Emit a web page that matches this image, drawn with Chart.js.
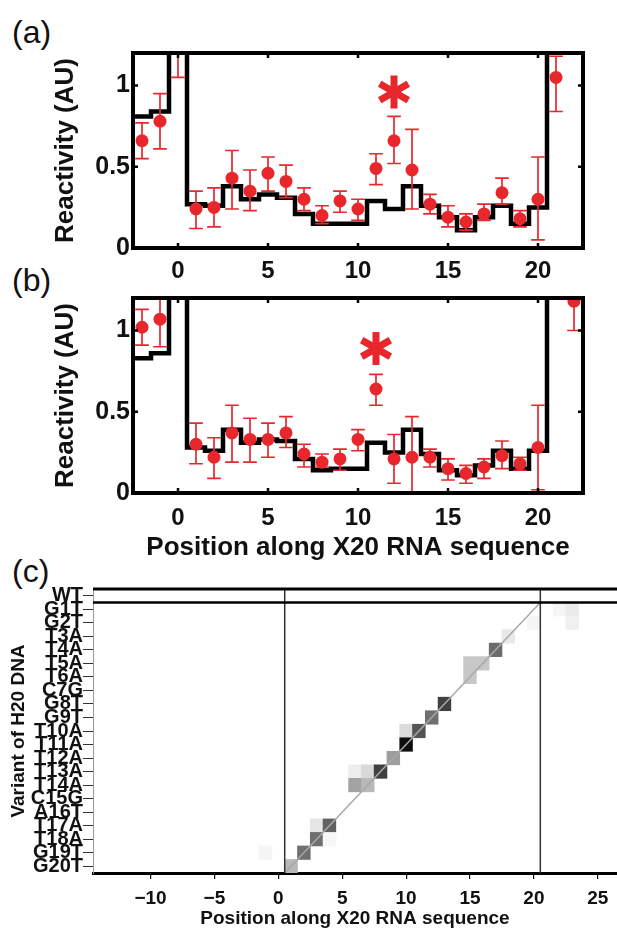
<!DOCTYPE html>
<html><head><meta charset="utf-8">
<script src="https://cdn.jsdelivr.net/npm/chart.js@4.4.1/dist/chart.umd.min.js"></script>
<style>
html,body{margin:0;padding:0;background:#fff;}
body{width:617px;height:930px;position:relative;overflow:hidden;font-family:"Liberation Sans",Arial,Helvetica,sans-serif;}
canvas{position:absolute;left:0;}
.lab{position:absolute;left:12px;font-size:32px;line-height:32px;color:#111;font-family:"Liberation Sans",Arial,sans-serif;}
</style></head><body>
<div class="lab" style="top:16px">(a)</div>
<div class="lab" style="top:264px">(b)</div>
<div class="lab" style="top:555px">(c)</div>
<canvas id="ca" width="617" height="285" style="top:0px"></canvas>
<canvas id="cb" width="617" height="290" style="top:280px"></canvas>
<canvas id="cc" width="617" height="370" style="top:560px"></canvas>
<script>
// ---------- Panel (a) ----------
const aPos = [-2,-1,0,1,2,3,4,5,6,7,8,9,10,11,12,13,14,15,16,17,18,19,20,21];
const aVal = [0.66,0.78,1.30,0.24,0.25,0.43,0.35,0.46,0.41,0.30,0.20,0.29,0.24,0.49,0.66,0.48,0.27,0.19,0.16,0.21,0.34,0.18,0.30,1.05];
const aLo  = [0.55,0.61,1.05,0.12,0.13,0.24,0.23,0.35,0.31,0.23,0.15,0.22,0.17,0.39,0.52,0.24,0.21,0.13,0.11,0.17,0.27,0.13,0.05,0.84];
const aHi  = [0.77,0.95,1.55,0.35,0.37,0.60,0.48,0.56,0.51,0.37,0.26,0.35,0.30,0.58,0.81,0.73,0.33,0.26,0.21,0.27,0.43,0.23,0.56,1.18];
const aStepPos = [-3,-2,-1,0,1,2,3,4,5,6,7,8,9,10,11,12,13,14,15,16,17,18,19,20,21,22,23];
const aStepVal = [0.81,0.81,0.84,1.6,0.27,0.26,0.38,0.30,0.33,0.31,0.21,0.15,0.15,0.15,0.29,0.24,0.38,0.26,0.19,0.11,0.19,0.26,0.15,0.25,1.6,1.6,1.6];
const aStar = [12, 0.96];

// ---------- Panel (b) ----------
const bPos = [-2,-1,1,2,3,4,5,6,7,8,9,10,11,12,13,14,15,16,17,18,19,20,22];
const bVal = [1.02,1.07,0.30,0.22,0.37,0.33,0.33,0.37,0.24,0.19,0.21,0.33,0.64,0.21,0.22,0.22,0.15,0.12,0.16,0.23,0.18,0.28,1.18];
const bLo  = [0.91,0.90,0.18,0.09,0.19,0.19,0.22,0.28,0.16,0.16,0.14,0.26,0.54,0.06,0.00,0.16,0.08,0.06,0.09,0.15,0.14,0.02,1.00];
const bHi  = [1.13,1.21,0.43,0.34,0.54,0.46,0.43,0.47,0.30,0.24,0.27,0.39,0.73,0.36,0.47,0.27,0.21,0.17,0.21,0.32,0.22,0.54,1.36];
const bStepPos = [-3,-2,-1,0,1,2,3,4,5,6,7,8,9,10,11,12,13,14,15,16,17,18,19,20,21,22,23];
const bStepVal = [0.83,0.83,0.86,1.6,0.28,0.26,0.39,0.31,0.33,0.32,0.21,0.14,0.15,0.15,0.31,0.25,0.39,0.24,0.14,0.11,0.17,0.26,0.15,0.26,1.6,1.6,1.6];
const bStar = [11, 0.89];

const profileXTicks = [0,5,10,15,20];
const profileYTicks = [0,0.5,1];

// ---------- Panel (c) ----------
const variants = ['WT','G1T','G2T','T3A','T4A','T5A','T6A','C7G','G8T','G9T','T10A','T11A','T12A','T13A','T14A','C15G','A16T','T17A','T18A','G19T','G20T'];
const cellVariant = ['G1T','G1T','G2T','G2T','T3A','T4A','T5A','T5A','T6A','G8T','G9T','T10A','T10A','T11A','T12A','T13A','T13A','T13A','T14A','T14A','T17A','T17A','T18A','T18A','G19T','G19T','G20T'];
const cellPos = [22,23,20,23,18,17,15,16,15,13,12,10,11,10,9,6,7,8,6,7,3,4,3,4,-1,2,1];
const cellShade = [0.04,0.08,0.04,0.06,0.09,0.58,0.22,0.22,0.22,0.75,0.56,0.14,0.67,0.95,0.38,0.07,0.15,0.75,0.36,0.28,0.10,0.62,0.56,0.03,0.04,0.56,0.28];
const cXTicks = [-10,-5,0,5,10,15,20,25];
const boundaryPos = [0.5, 20.5];

const FONT = '"Liberation Sans", Arial, Helvetica, sans-serif';
const RED = '#e8272d';
Chart.defaults.font.family = FONT;
Chart.defaults.color = '#111';

const framePlugin = {
  id: 'frame',
  afterDatasetsDraw(chart, args, opts) {
    const {ctx, chartArea: a, scales} = chart;
    ctx.save();
    ctx.strokeStyle = '#000';
    ctx.lineWidth = 2.5;
    const L = 5;
    ctx.beginPath();
    scales.x.ticks.forEach(t => {
      const px = scales.x.getPixelForValue(t.value);
      ctx.moveTo(px, a.bottom); ctx.lineTo(px, a.bottom - L);
      ctx.moveTo(px, a.top); ctx.lineTo(px, a.top + L);
    });
    scales.y.ticks.forEach(t => {
      const py = scales.y.getPixelForValue(t.value);
      ctx.moveTo(a.left, py); ctx.lineTo(a.left + L, py);
      ctx.moveTo(a.right, py); ctx.lineTo(a.right - L, py);
    });
    ctx.stroke();
    ctx.lineWidth = 4;
    ctx.strokeRect(a.left, a.top, a.right - a.left, a.bottom - a.top);
    if (opts.star) {
      const sx = scales.x.getPixelForValue(opts.star[0]);
      const sy = scales.y.getPixelForValue(opts.star[1]);
      const r = 16.5;
      ctx.strokeStyle = RED;
      ctx.lineWidth = 7;
      ctx.beginPath();
      [90, 30, 150].forEach(d => {
        const t = d * Math.PI / 180;
        ctx.moveTo(sx - r * Math.cos(t), sy - r * Math.sin(t));
        ctx.lineTo(sx + r * Math.cos(t), sy + r * Math.sin(t));
      });
      ctx.stroke();
    }
    ctx.restore();
  }
};

function makeProfile(id, pos, val, lo, hi, stepPos, stepVal, star, o) {
  const capW = 0.38;
  const pts = pos.map((p, i) => ({x: p, y: val[i]}));
  const err = [];
  pos.forEach((p, i) => {
    err.push({x: p, y: lo[i]}, {x: p, y: hi[i]}, {x: p, y: null});
    err.push({x: p - capW, y: lo[i]}, {x: p + capW, y: lo[i]}, {x: p, y: null});
    err.push({x: p - capW, y: hi[i]}, {x: p + capW, y: hi[i]}, {x: p, y: null});
  });
  const step = stepPos.map((p, i) => ({x: p, y: stepVal[i]}));
  return new Chart(document.getElementById(id), {
    type: 'line',
    data: {datasets: [
      {data: pts, showLine: false, pointRadius: 6.5, pointHoverRadius: 6.5, pointBackgroundColor: RED, pointBorderWidth: 0},
      {data: err, borderColor: RED, borderWidth: 1.7, pointRadius: 0, spanGaps: false, tension: 0},
      {data: step, borderColor: '#000', borderWidth: 4.5, pointRadius: 0, stepped: 'middle'}
    ]},
    options: {
      responsive: false, animation: false, events: [],
      layout: {padding: {top: o.top, right: 34, left: 0, bottom: 0}},
      plugins: {legend: {display: false}, tooltip: {enabled: false}, frame: {star: star}},
      scales: {
        x: {type: 'linear', min: -2.5, max: 22.5,
            afterBuildTicks: s => { s.ticks = profileXTicks.map(v => ({value: v})); },
            afterFit: s => { s.height = o.xh; },
            grid: {display: false, drawTicks: false}, border: {display: false},
            ticks: {font: {size: 24, weight: 'bold'}, color: '#111', padding: o.xpad, maxRotation: 0, autoSkip: false,
                    callback: v => String(v)},
            title: {display: !!o.xtitle, text: o.xtitle || '', font: {size: 26, weight: 'bold'}, color: '#111', padding: {top: 0, bottom: 7}}
        },
        y: {type: 'linear', min: 0, max: 1.2,
            afterBuildTicks: s => { s.ticks = profileYTicks.map(v => ({value: v})); },
            afterFit: s => { s.width = 133; },
            grid: {display: false, drawTicks: false}, border: {display: false},
            ticks: {font: {size: 25, weight: 'bold'}, color: '#111', padding: 3, autoSkip: false,
                    callback: v => String(v)},
            title: {display: true, text: 'Reactivity (AU)', font: {size: 26, weight: 'bold'}, color: '#111', padding: {top: 50, bottom: 0}}
        }
      }
    },
    plugins: [framePlugin]
  });
}

makeProfile('ca', aPos, aVal, aLo, aHi, aStepPos, aStepVal, aStar, {top: 53, xh: 37, xpad: 9});
makeProfile('cb', bPos, bVal, bLo, bHi, bStepPos, bStepVal, bStar, {top: 17, xh: 77, xpad: 11, xtitle: 'Position along X20 RNA sequence'});

// ---------- Heatmap (c) ----------
const rowY = name => (variants.length - 0.5) - variants.indexOf(name);
const cells = cellVariant.map((v, i) => ({x: [cellPos[i] - 0.5, cellPos[i] + 0.5], y: rowY(v)}));
const cellColors = cellShade.map(s => { const g = Math.round(255 * (1 - s)); return `rgb(${g},${g},${g})`; });
const nRows = variants.length;
const xMin = -14.5, xMax = 26.5;

new Chart(document.getElementById('cc'), {
  type: 'bar',
  data: {datasets: [
    {type: 'line', data: [{x: xMin, y: nRows}, {x: xMax, y: nRows}], borderColor: '#000', borderWidth: 3, pointRadius: 0, clip: false},
    {type: 'line', data: [{x: xMin, y: nRows - 1}, {x: xMax, y: nRows - 1}], borderColor: '#000', borderWidth: 2.5, pointRadius: 0, clip: false},
    {type: 'line', data: [{x: boundaryPos[0], y: 0}, {x: boundaryPos[0], y: nRows}], borderColor: '#333', borderWidth: 1.5, pointRadius: 0},
    {type: 'line', data: [{x: boundaryPos[1], y: 0}, {x: boundaryPos[1], y: nRows}], borderColor: '#333', borderWidth: 1.5, pointRadius: 0},
    {type: 'line', data: [{x: boundaryPos[0], y: 0}, {x: boundaryPos[1], y: nRows - 1}], borderColor: '#a8a8a8', borderWidth: 1.5, pointRadius: 0},
    {type: 'bar', data: cells, backgroundColor: cellColors, borderWidth: 0, borderSkipped: false, barPercentage: 1, categoryPercentage: 1}
  ]},
  options: {
    indexAxis: 'y',
    responsive: false, animation: false, events: [],
    layout: {padding: {top: 29, right: 0, left: 0, bottom: 0}},
    plugins: {legend: {display: false}, tooltip: {enabled: false}},
    scales: {
      x: {type: 'linear', min: xMin, max: xMax, offset: false,
          afterBuildTicks: s => { s.ticks = cXTicks.map(v => ({value: v})); },
          afterFit: s => { s.height = 57; },
          grid: {drawOnChartArea: false, drawTicks: true, tickLength: 6, color: '#000', lineWidth: 1.2},
          border: {display: true, color: '#000', width: 3},
          ticks: {font: {size: 19, weight: 'bold'}, color: '#111', padding: 8, maxRotation: 0, autoSkip: false,
                  callback: v => v < 0 ? '\u2212' + Math.abs(v) : String(v)},
          title: {display: true, text: 'Position along X20 RNA sequence', font: {size: 19, weight: 'bold'}, color: '#111', padding: {top: 0, bottom: 0}}
      },
      y: {type: 'linear', min: 0, max: nRows, offset: false,
          afterBuildTicks: s => { s.ticks = variants.map((_, i) => ({value: i + 0.5})); },
          afterFit: s => { s.width = 93; },
          grid: {drawOnChartArea: false, drawTicks: true, tickLength: 10, color: '#333', lineWidth: 1, offset: false},
          border: {display: true, color: '#999', width: 1},
          ticks: {font: {size: 20, weight: 'bold', lineHeight: 1}, color: '#111', padding: 0, autoSkip: false,
                  callback: v => variants[Math.round(nRows - 0.5 - v)]},
          title: {display: true, text: 'Variant of H20 DNA', font: {size: 19, weight: 'bold'}, color: '#111', padding: {top: 7, bottom: 0}}
      }
    }
  }
});
</script>
</body></html>
